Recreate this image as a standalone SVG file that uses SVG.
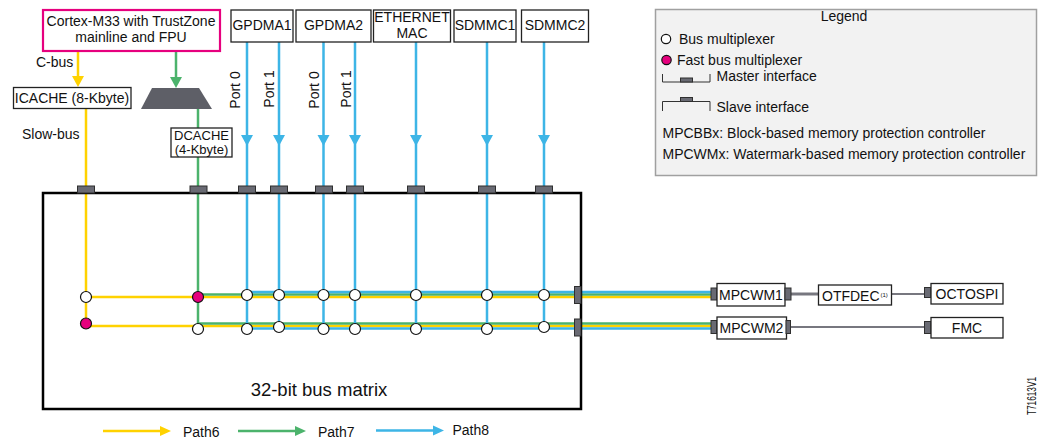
<svg xmlns="http://www.w3.org/2000/svg" width="1041" height="439" viewBox="0 0 1041 439">
  <style>
    text { font-family: "Liberation Sans", Arial, sans-serif; font-size: 14px; fill: #111; }
    .m { text-anchor: middle; }
    .box { fill: #fff; stroke: #222; stroke-width: 1.3; }
    .yl { stroke: #ffd200; stroke-width: 2.5; fill: none; }
    .gl { stroke: #4cb36c; stroke-width: 2.5; fill: none; }
    .bl { stroke: #3db5e6; stroke-width: 2.5; fill: none; }
    .gray { stroke: #77777f; fill: none; }
    .mux { fill: #fff; stroke: #111; stroke-width: 1.2; }
    .fmux { fill: #e5007d; stroke: #111; stroke-width: 1.2; }
    .port { fill: #696a73; stroke: #2f2f2f; stroke-width: 1; }
  </style>
  <defs>
    <path id="headDown" d="M-6,-11 H6 L0,0 Z"/>
    <path id="headRight" d="M-11,-5 V5 L0,0 Z"/>
  </defs>

  <!-- connectors -->
  <g id="connectors">
    <!-- CPU buses -->
    <line class="yl" x1="78" y1="51" x2="78" y2="80"/>
    <use href="#headDown" x="78" y="87" fill="#ffd200"/>
    <line class="gl" x1="176" y1="51" x2="176" y2="80"/>
    <use href="#headDown" x="176" y="88" fill="#4cb36c"/>

    <!-- yellow path -->
    <line class="yl" x1="86" y1="109" x2="86" y2="323.5"/>
    <line class="yl" x1="86" y1="297" x2="711" y2="297"/>
    <line class="yl" x1="86" y1="326" x2="711" y2="326"/>

    <!-- green path -->
    <line class="gl" x1="198" y1="109" x2="198" y2="128"/>
    <line class="gl" x1="198" y1="157" x2="198" y2="329"/>
    <line class="gl" x1="198" y1="294.5" x2="711" y2="294.5"/>
    <line class="gl" x1="198" y1="323.5" x2="711" y2="323.5"/>

    <!-- blue path -->
    <g class="bl">
      <line x1="247" y1="42" x2="247" y2="328.5"/>
      <line x1="279" y1="42" x2="279" y2="328.5"/>
      <line x1="323.5" y1="42" x2="323.5" y2="328.5"/>
      <line x1="355" y1="42" x2="355" y2="328.5"/>
      <line x1="416" y1="42" x2="416" y2="328.5"/>
      <line x1="487" y1="42" x2="487" y2="328.5"/>
      <line x1="544" y1="42" x2="544" y2="328.5"/>
      <line x1="247" y1="292" x2="711" y2="292"/>
      <line x1="247" y1="328.5" x2="711" y2="328.5"/>
    </g>
    <g fill="#3db5e6">
      <use href="#headDown" x="247" y="146"/>
      <use href="#headDown" x="279" y="146"/>
      <use href="#headDown" x="323.5" y="146"/>
      <use href="#headDown" x="355" y="146"/>
      <use href="#headDown" x="416" y="146"/>
      <use href="#headDown" x="487" y="146"/>
      <use href="#headDown" x="544" y="146"/>
    </g>

    <!-- memory-side links -->
    <line class="gray" x1="791" y1="294" x2="818" y2="294" stroke-width="3"/>
    <line class="gray" x1="891" y1="294" x2="924" y2="294" stroke-width="2"/>
    <line class="gray" x1="790" y1="327" x2="924" y2="327" stroke-width="2"/>

    <!-- multiplexers -->
    <circle class="mux" cx="86" cy="297" r="5.5"/>
    <circle class="fmux" cx="86" cy="323.5" r="5.5"/>
    <circle class="fmux" cx="198" cy="297" r="5.5"/>
    <circle class="mux" cx="198" cy="329" r="5.5"/>
    <circle class="mux" cx="247" cy="295" r="5.5"/>
    <circle class="mux" cx="279" cy="295" r="5.5"/>
    <circle class="mux" cx="323.5" cy="295" r="5.5"/>
    <circle class="mux" cx="355" cy="295" r="5.5"/>
    <circle class="mux" cx="416" cy="295" r="5.5"/>
    <circle class="mux" cx="487" cy="295" r="5.5"/>
    <circle class="mux" cx="544" cy="295" r="5.5"/>
    <circle class="mux" cx="247" cy="329" r="5.5"/>
    <circle class="mux" cx="279" cy="327" r="5.5"/>
    <circle class="mux" cx="323.5" cy="329" r="5.5"/>
    <circle class="mux" cx="355" cy="329" r="5.5"/>
    <circle class="mux" cx="416" cy="329" r="5.5"/>
    <circle class="mux" cx="487" cy="329" r="5.5"/>
    <circle class="mux" cx="544" cy="327" r="5.5"/>

    <!-- bus labels -->
    <text x="36" y="67">C-bus</text>
    <text x="22" y="139">Slow-bus</text>
    <text class="m" transform="translate(240,90) rotate(-90)">Port 0</text>
    <text class="m" transform="translate(273.5,89) rotate(-90)">Port 1</text>
    <text class="m" transform="translate(318.5,90) rotate(-90)">Port 0</text>
    <text class="m" transform="translate(351,89) rotate(-90)">Port 1</text>
  </g>

  <!-- CPU -->
  <g id="cortex">
    <rect x="43" y="10" width="177" height="41" fill="#fff" stroke="#e6007e" stroke-width="2.2"/>
    <text class="m" x="131" y="26">Cortex-M33 with TrustZone</text>
    <text class="m" x="131" y="42">mainline and FPU</text>
  </g>

  <g id="icache">
    <rect class="box" x="13.5" y="87.5" width="117.5" height="21"/>
    <text class="m" x="72" y="103">ICACHE (8-Kbyte)</text>
  </g>

  <g id="dcache-mux">
    <polygon points="152,88 199,88 212,109 141,109" fill="#5e5f67"/>
  </g>

  <g id="dcache">
    <rect class="box" x="171" y="128" width="61" height="29"/>
    <text class="m" x="201.5" y="140" style="font-size:13px">DCACHE</text>
    <text class="m" x="201.5" y="153.5" style="font-size:13px">(4-Kbyte)</text>
  </g>

  <!-- bus masters -->
  <g id="gpdma1">
    <rect class="box" x="231" y="10" width="62" height="32"/>
    <text class="m" x="262" y="30">GPDMA1</text>
  </g>
  <g id="gpdma2">
    <rect class="box" x="296" y="10" width="75" height="32"/>
    <text class="m" x="333.5" y="30">GPDMA2</text>
  </g>
  <g id="ethernet">
    <rect class="box" x="373.5" y="10" width="77" height="32"/>
    <text class="m" x="412" y="21.5">ETHERNET</text>
    <text class="m" x="412" y="38">MAC</text>
  </g>
  <g id="sdmmc1">
    <rect class="box" x="454" y="10" width="62" height="32"/>
    <text class="m" x="485" y="30">SDMMC1</text>
  </g>
  <g id="sdmmc2">
    <rect class="box" x="521.5" y="10" width="67" height="32"/>
    <text class="m" x="555" y="30">SDMMC2</text>
  </g>

  <!-- bus matrix -->
  <g id="bus-matrix">
    <rect x="43" y="193" width="538" height="216" fill="none" stroke="#000" stroke-width="2.5"/>
    <g class="port">
      <rect x="77.5" y="186" width="17" height="7"/>
      <rect x="190" y="186" width="17" height="7"/>
      <rect x="238.5" y="186" width="17" height="7"/>
      <rect x="270.5" y="186" width="17" height="7"/>
      <rect x="315.5" y="186" width="17" height="7"/>
      <rect x="346.5" y="186" width="17" height="7"/>
      <rect x="407.5" y="186" width="17" height="7"/>
      <rect x="478.5" y="186" width="17" height="7"/>
      <rect x="535.5" y="186" width="17" height="7"/>
      <rect x="574.5" y="286.5" width="6.5" height="17"/>
      <rect x="574.5" y="319" width="6.5" height="17"/>
    </g>
    <text class="m" x="319" y="396" style="font-size:18.5px">32-bit bus matrix</text>
  </g>

  <!-- memory side -->
  <g id="mpcwm1">
    <rect class="port" x="711" y="288" width="6" height="12"/>
    <rect class="box" x="717" y="283.5" width="68" height="22.5"/>
    <rect class="port" x="785" y="288" width="6" height="12"/>
    <text class="m" x="751" y="300">MPCWM1</text>
  </g>
  <g id="otfdec">
    <rect class="box" x="818.5" y="285" width="73" height="20"/>
    <text x="822" y="301">OTFDEC</text>
    <text x="880.5" y="297" style="font-size:6px">(1)</text>
  </g>
  <g id="octospi">
    <rect class="port" x="924.5" y="287.5" width="6.5" height="10"/>
    <rect class="box" x="931" y="283.5" width="72" height="20.5"/>
    <text class="m" x="967" y="299">OCTOSPI</text>
  </g>
  <g id="mpcwm2">
    <rect class="port" x="711" y="320.5" width="6" height="13"/>
    <rect class="box" x="717" y="317" width="69.5" height="22"/>
    <rect class="port" x="786" y="320.5" width="4.5" height="13"/>
    <text class="m" x="751.5" y="333">MPCWM2</text>
  </g>
  <g id="fmc">
    <rect class="port" x="924.5" y="321.5" width="6.5" height="12"/>
    <rect class="box" x="931" y="317.5" width="72" height="20.5"/>
    <text class="m" x="967" y="333">FMC</text>
  </g>

  <!-- legend -->
  <g id="legend">
    <rect x="655.5" y="9.5" width="381" height="166" fill="#f2f2f2" stroke="#a0a0a0" stroke-width="1.5"/>
    <text class="m" x="844" y="21">Legend</text>
    <circle class="mux" cx="666" cy="39" r="4.7"/>
    <text x="679" y="43.5">Bus multiplexer</text>
    <circle class="fmux" cx="666.5" cy="60" r="4.7"/>
    <text x="677" y="65">Fast bus multiplexer</text>
    <path d="M662.5,74 V82 H710 V74" fill="none" stroke="#333" stroke-width="1"/>
    <rect class="port" x="680.5" y="78" width="12" height="4"/>
    <text x="716.5" y="81">Master interface</text>
    <path d="M662.5,111 V101.5 H710 V111" fill="none" stroke="#333" stroke-width="1"/>
    <rect class="port" x="680.5" y="97.5" width="12" height="4"/>
    <text x="716.5" y="112">Slave interface</text>
    <text x="662.5" y="138">MPCBBx: Block-based memory protection controller</text>
    <text x="662.5" y="159">MPCWMx: Watermark-based memory protection controller</text>
  </g>

  <!-- path key -->
  <g id="path-key">
    <line class="yl" x1="103" y1="431" x2="162" y2="431"/>
    <use href="#headRight" x="171" y="431" fill="#ffd200"/>
    <text x="183" y="437">Path6</text>
    <line class="gl" x1="238" y1="431" x2="297" y2="431"/>
    <use href="#headRight" x="306" y="431" fill="#4cb36c"/>
    <text x="318" y="437">Path7</text>
    <line class="bl" x1="376" y1="430.5" x2="435" y2="430.5"/>
    <use href="#headRight" x="444" y="430.5" fill="#3db5e6"/>
    <text x="452.5" y="434.5">Path8</text>
  </g>

  <text transform="translate(1036,396) rotate(-90)" class="m" style="font-size:13px" textLength="38" lengthAdjust="spacingAndGlyphs">T71613V1</text>
</svg>
